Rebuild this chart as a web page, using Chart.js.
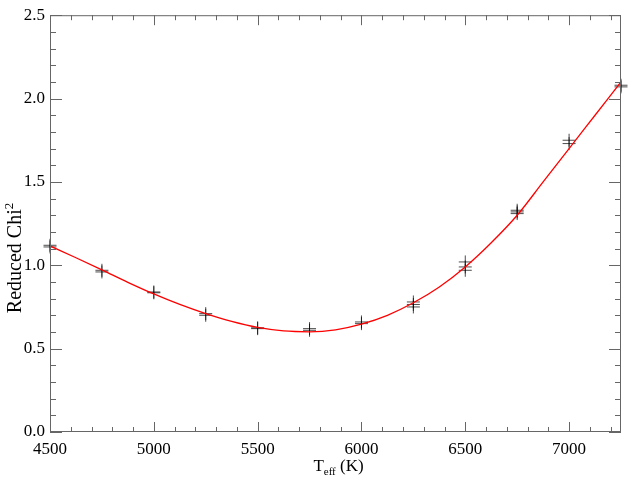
<!DOCTYPE html>
<html>
<head>
<meta charset="utf-8">
<script src="https://cdn.jsdelivr.net/npm/chart.js@4.4.1/dist/chart.umd.min.js"></script>
<style>
  html, body { margin: 0; padding: 0; background: #fff; }
  canvas { display: block; }
</style>
</head>
<body>
<canvas id="grafico" width="640" height="480"></canvas>
<script>
// pontos medidos (Teff, chi2 reduzido) — vários por temperatura
const teff = [4500, 4500, 4750, 4750, 5000, 5000, 5250, 5250, 5500, 5500,
  5750, 5750, 6000, 6000, 6250, 6250, 6250, 6500, 6500, 6500,
  6750, 6750, 6750, 7000, 7000, 7250, 7250];
const chi = [1.12, 1.11, 0.97, 0.96, 0.84, 0.835, 0.70, 0.71, 0.62, 0.625,
  0.62, 0.61, 0.66, 0.65, 0.78, 0.765, 0.75, 1.02, 0.99, 0.97,
  1.33, 1.32, 1.31, 1.75, 1.73, 2.07, 2.08];

// curva ajustada (vermelha)
const fitX = [4500, 4625, 4750, 4875, 5000, 5125, 5250, 5375, 5500, 5625, 5750, 5875,
  6000, 6125, 6250, 6375, 6500, 6625, 6750, 6875, 7000, 7125, 7250];
const fitY = [1.116, 1.045, 0.972, 0.898, 0.828, 0.765, 0.71, 0.663, 0.627, 0.606, 0.601, 0.613,
  0.647, 0.70, 0.775, 0.87, 0.99, 1.135, 1.30, 1.50, 1.70, 1.90, 2.10];

const xTicks = [4500, 5000, 5500, 6000, 6500, 7000];
const yTicks = [0.0, 0.5, 1.0, 1.5, 2.0, 2.5];
const xMinorStep = 100;
const yMinorStep = 0.1;

const FONT = "'Liberation Serif', 'Times New Roman', serif";

// moldura estilo IDL: eixos nos 4 lados, ticks para dentro + títulos com sub/sobrescrito
const framePlugin = {
  id: "frame",
  afterDraw(chart) {
    const { ctx, chartArea: a, scales: { x, y } } = chart;
    ctx.save();
    ctx.strokeStyle = "#666";
    ctx.lineWidth = 1;
    ctx.strokeRect(a.left + 0.5, a.top + 0.5, a.right - a.left - 1, a.bottom - a.top - 1);

    ctx.beginPath();
    for (let v = x.min; v <= x.max + 1e-6; v += xMinorStep) {
      const px = Math.round(x.getPixelForValue(v)) + 0.5;
      const len = xTicks.includes(Math.round(v)) ? 10 : 5;
      ctx.moveTo(px, a.bottom); ctx.lineTo(px, a.bottom - len);
      ctx.moveTo(px, a.top); ctx.lineTo(px, a.top + len);
    }
    for (let i = 0; i <= Math.round((y.max - y.min) / yMinorStep); i++) {
      const v = y.min + i * yMinorStep;
      const py = Math.round(y.getPixelForValue(v)) + 0.5;
      const len = i % 5 === 0 ? 12 : 6;
      ctx.moveTo(a.left, py); ctx.lineTo(a.left + len, py);
      ctx.moveTo(a.right, py); ctx.lineTo(a.right - len, py);
    }
    ctx.stroke();

    // título do eixo x: T_eff (K)
    ctx.fillStyle = "#000";
    ctx.textBaseline = "alphabetic";
    ctx.textAlign = "left";
    const big = "17px " + FONT, small = "11px " + FONT;
    ctx.font = big; const wT = ctx.measureText("T").width;
    ctx.font = small; const wE = ctx.measureText("eff").width;
    ctx.font = big; const wK = ctx.measureText(" (K)").width;
    let cx = (a.left + a.right) / 2 + 3 - (wT + wE + wK) / 2;
    const by = 471;
    ctx.font = big; ctx.fillText("T", cx, by); cx += wT;
    ctx.font = small; ctx.fillText("eff", cx, by + 4); cx += wE;
    ctx.font = big; ctx.fillText(" (K)", cx, by);

    // título do eixo y: Reduced Chi²
    const bigY = "20px " + FONT, smallY = "13px " + FONT;
    ctx.translate(21, 258);
    ctx.rotate(-Math.PI / 2);
    ctx.font = bigY; const wR = ctx.measureText("Reduced Chi").width;
    ctx.font = smallY; const w2 = ctx.measureText("2").width;
    let cy = -(wR + w2) / 2;
    ctx.font = bigY; ctx.fillText("Reduced Chi", cy, 0); cy += wR;
    ctx.font = smallY; ctx.fillText("2", cy, -8);
    ctx.restore();
  }
};

new Chart(document.getElementById("grafico").getContext("2d"), {
  data: {
    datasets: [
      {
        type: "line",
        label: "ajuste",
        data: fitX.map((v, i) => ({ x: v, y: fitY[i] })),
        borderColor: "#ff0000",
        borderWidth: 1.3,
        pointRadius: 0,
        cubicInterpolationMode: "monotone",
        order: 0
      },
      {
        type: "scatter",
        label: "modelos",
        data: teff.map((v, i) => ({ x: v, y: chi[i] })),
        pointStyle: "cross",
        pointRadius: 6.5,
        borderColor: "rgba(0,0,0,0.7)",
        backgroundColor: "rgba(0,0,0,0.7)",
        borderWidth: 1,
        clip: false,
        order: 1
      }
    ]
  },
  options: {
    responsive: false,
    animation: false,
    devicePixelRatio: 1,
    layout: { padding: { top: 13, right: 19, left: 0, bottom: 0 } },
    plugins: { legend: { display: false }, tooltip: { enabled: false } },
    scales: {
      x: {
        type: "linear", min: 4500, max: 7250,
        afterBuildTicks: s => { s.ticks = xTicks.map(v => ({ value: v })); },
        afterFit: s => { s.height = 48; },
        grid: { display: false, drawTicks: false },
        border: { display: false },
        ticks: { font: { family: FONT, size: 17 }, color: "#000", padding: 7, maxRotation: 0, autoSkip: false,
          callback: v => String(v) }
      },
      y: {
        type: "linear", min: 0, max: 2.5,
        afterBuildTicks: s => { s.ticks = yTicks.map(v => ({ value: v })); },
        afterFit: s => { s.width = 50; },
        grid: { display: false, drawTicks: false },
        border: { display: false },
        ticks: { font: { family: FONT, size: 17 }, color: "#000", padding: 5,
          callback: v => Number(v).toFixed(1) }
      }
    }
  },
  plugins: [framePlugin]
});
</script>
</body>
</html>
